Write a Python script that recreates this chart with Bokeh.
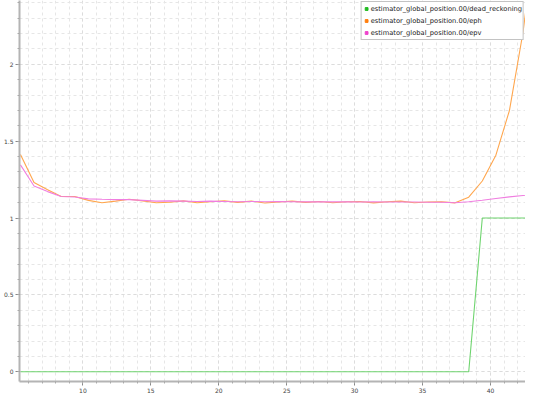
from bokeh.plotting import figure
from bokeh.models import Range1d, SingleIntervalTicker, CustomJSTickFormatter, Legend, LegendItem, ColumnDataSource
from bokeh.embed import file_html
from bokeh.resources import INLINE

# data
t = [5.4 + k for k in range(39)]
dead_reckoning = [0]*34 + [1]*5
eph = [1.413, 1.231, 1.184, 1.140, 1.140, 1.115, 1.100, 1.110, 1.122, 1.112,
       1.100, 1.103, 1.112, 1.100, 1.106, 1.112, 1.102, 1.110, 1.098, 1.104,
       1.110, 1.102, 1.108, 1.100, 1.106, 1.108, 1.099, 1.106, 1.110, 1.100,
       1.104, 1.106, 1.099, 1.136, 1.241, 1.409, 1.700, 2.210, 2.900]
epv = [1.346, 1.209, 1.172, 1.140, 1.137, 1.125, 1.122, 1.120, 1.120, 1.115,
       1.110, 1.112, 1.110, 1.108, 1.110, 1.108, 1.106, 1.108, 1.106, 1.107,
       1.106, 1.105, 1.106, 1.105, 1.105, 1.104, 1.105, 1.104, 1.104, 1.104,
       1.103, 1.103, 1.100, 1.106, 1.116, 1.127, 1.138, 1.147, 1.156]
labels = ["estimator_global_position.00/dead_reckoning",
          "estimator_global_position.00/eph",
          "estimator_global_position.00/epv"]

line_colors = ["#6fd46f", "#ffa64d", "#f07ee0"]
legend_colors = ["#22bb22", "#ff7f0e", "#ee44cc"]

p = figure(width=525, height=395, output_backend="svg", toolbar_location=None,
           x_range=Range1d(5.33, 42.58), y_range=Range1d(-0.063, 2.415),
           min_border_left=2, min_border_top=0, min_border_right=0, min_border_bottom=2)
p.outline_line_color = None
p.background_fill_color = "white"

src = ColumnDataSource(dict(t=t, dr=dead_reckoning, eph=eph, epv=epv))
p.line("t", "dr", source=src, color=line_colors[0], line_width=1.1)
p.line("t", "eph", source=src, color=line_colors[1], line_width=1.1)
p.line("t", "epv", source=src, color=line_colors[2], line_width=1.1)

items = []
for lab, c in zip(labels, legend_colors):
    r = p.scatter(x=[-100], y=[-100], marker="square", size=4, color=c)
    items.append(LegendItem(label=lab, renderers=[r]))
leg = Legend(items=items, location="top_right")
leg.label_text_font = "DejaVu Sans"
leg.label_text_font_size = "6.7px"
leg.label_text_color = "#222222"
leg.label_height = 11
leg.glyph_height = 11
leg.glyph_width = 7
leg.label_standoff = 1
leg.spacing = 1
leg.padding = 1
leg.margin = 1
leg.border_line_color = "#888888"
leg.border_line_width = 1
leg.background_fill_color = "white"
leg.background_fill_alpha = 1.0
p.add_layout(leg)

p.xaxis.ticker = SingleIntervalTicker(interval=5, num_minor_ticks=5)
p.yaxis.ticker = SingleIntervalTicker(interval=0.5, num_minor_ticks=5)
p.xaxis.formatter = CustomJSTickFormatter(code="return String(Number(tick.toFixed(2)));")
p.yaxis.formatter = CustomJSTickFormatter(code="return String(Number(tick.toFixed(2)));")

for ax in (p.xaxis[0], p.yaxis[0]):
    ax.axis_line_color = "#b4b4b4"
    ax.axis_line_width = 2
    ax.major_tick_line_color = "#888888"
    ax.minor_tick_line_color = "#aaaaaa"
    ax.major_tick_out = 4
    ax.major_tick_in = 0
    ax.minor_tick_out = 2
    ax.minor_tick_in = 0
    ax.major_label_text_font = "DejaVu Sans"
    ax.major_label_text_font_size = "6px"
    ax.major_label_text_color = "#444444"
    ax.major_label_standoff = 2

for g in (p.xgrid[0], p.ygrid[0]):
    g.grid_line_color = "#dcdcdc"
    g.grid_line_dash = "3 3"
    g.minor_grid_line_color = "#e6e6e6"
    g.minor_grid_line_dash = "3 3"

open("out.html", "w").write(file_html(p, INLINE))
